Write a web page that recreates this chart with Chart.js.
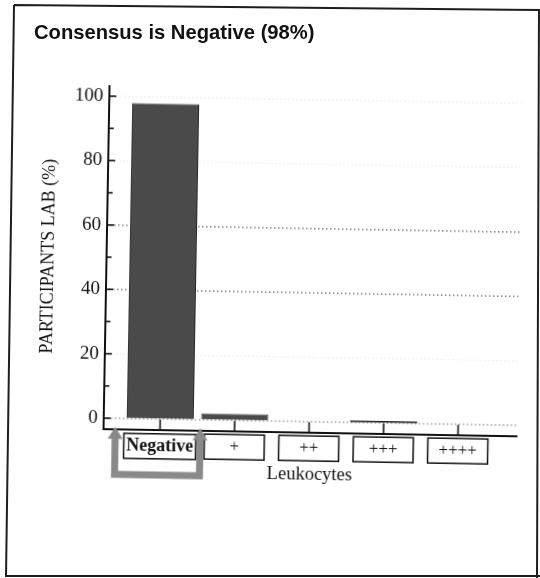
<!DOCTYPE html>
<html><head><meta charset="utf-8">
<script src="https://cdn.jsdelivr.net/npm/chart.js@4.4.1/dist/chart.umd.min.js"></script>
<style>
html,body{margin:0;padding:0;background:#fff;width:540px;height:578px;overflow:hidden;position:relative}
#frame{position:absolute;left:0;top:0}
#title{position:absolute;left:34px;top:22px;font:bold 20.2px 'Liberation Sans',Arial,sans-serif;line-height:20px;color:#111;white-space:nowrap}
#c{position:absolute;left:0;top:0;transform:rotate(1deg);transform-origin:270px 289px}
</style></head><body>
<svg id="frame" width="540" height="578"><path d="M14 5 L541 10 M539 9 L537 578 M6 576 L540 576 M14 5 L6 577" stroke="#1e1e1e" stroke-width="2" fill="none"/></svg>
<canvas id="c" width="540" height="578"></canvas>
<div id="title"></div>
<script>
// ---- data ----
const chartTitle = 'Consensus is Negative (98%)';
const categories = ['Negative', '+', '++', '+++', '++++'];
const values = [98, 2, 0, 0.6, 0];
const yTickValues = [0, 10, 20, 30, 40, 50, 60, 70, 80, 90, 100];
const yLabelStep = 20;
const xTitle = 'Leukocytes';
const yTitle = 'PARTICIPANTS LAB (%)';

document.getElementById('title').textContent = chartTitle;

const SERIF = "'Liberation Serif','Times New Roman',serif";
function tickFont(i) {
  return i === 0 ? {family: SERIF, size: 18, weight: 'bold'} : {family: SERIF, size: 17, weight: 'normal'};
}
function gridColor(v) {
  if (v === 40 || v === 60) return '#6a6a6a';
  if (v === 0) return '#a0a0a0';
  return '#ededed';
}

const decor = {
  id: 'decor',
  beforeDatasetsDraw(chart) {
    const {ctx, chartArea: a, scales: {y}} = chart;
    ctx.save();
    ctx.lineWidth = 1.3;
    ctx.setLineDash([1.5, 2.5]);
    yTickValues.filter(v => v % yLabelStep === 0).forEach(v => {
      const py = y.getPixelForValue(v);
      ctx.strokeStyle = gridColor(v);
      ctx.beginPath(); ctx.moveTo(a.left + 3, py); ctx.lineTo(a.right, py); ctx.stroke();
    });
    ctx.restore();
  },
  afterDraw(chart) {
    const {ctx, chartArea: a, scales: {x, y}} = chart;
    ctx.save();
    ctx.strokeStyle = '#111';
    ctx.lineWidth = 1.6;
    // inward y ticks
    yTickValues.forEach(v => {
      const py = y.getPixelForValue(v);
      ctx.beginPath(); ctx.moveTo(a.left, py); ctx.lineTo(a.left + (v % yLabelStep === 0 ? 7 : 5), py); ctx.stroke();
    });
    // upward category ticks
    categories.forEach((c, i) => {
      const px = x.getPixelForValue(i);
      ctx.beginPath(); ctx.moveTo(px, a.bottom); ctx.lineTo(px, a.bottom - 10); ctx.stroke();
    });
    // boxes around category labels
    ctx.lineWidth = 1.5;
    categories.forEach((c, i) => {
      const f = tickFont(i);
      ctx.font = `${f.weight} ${f.size}px ${f.family}`;
      const w = Math.max(ctx.measureText(c).width + 5, 60);
      const h = 25;
      const px = x.getPixelForValue(i);
      const cy = a.bottom + 6 + f.size * 0.6;
      ctx.strokeRect(px - w / 2, cy - h / 2, w, h);
    });
    // gray bracket arrow under the consensus category
    const lx = x.getPixelForValue(-0.6), rx = x.getPixelForValue(0.54);
    const tipY = a.bottom - 2, baseY = a.bottom + 45.5;
    ctx.strokeStyle = '#8a8a8a';
    ctx.fillStyle = '#8a8a8a';
    ctx.lineWidth = 7;
    ctx.lineJoin = 'miter';
    ctx.beginPath();
    ctx.moveTo(lx, tipY + 11); ctx.lineTo(lx, baseY); ctx.lineTo(rx, baseY); ctx.lineTo(rx, tipY + 11);
    ctx.stroke();
    [lx, rx].forEach(px => {
      ctx.beginPath(); ctx.moveTo(px, tipY); ctx.lineTo(px - 7.5, tipY + 12); ctx.lineTo(px + 7.5, tipY + 12); ctx.closePath(); ctx.fill();
    });
    ctx.restore();
  }
};

new Chart(document.getElementById('c'), {
  type: 'bar',
  data: {
    datasets: [{
      data: categories.map((c, i) => ({x: i, y: values[i]})),
      backgroundColor: ctx => (ctx.raw && ctx.raw.y < 1 ? '#1e1e1e' : '#4a4a4a'),
      borderColor: '#2a2a2a',
      borderWidth: ctx => (ctx.raw && ctx.raw.y < 1 ? 0 : 1),
      barPercentage: 0.9,
      categoryPercentage: 1
    }]
  },
  options: {
    responsive: false,
    animation: false,
    layout: {padding: {left: 30, right: 21, top: 88.7, bottom: 0}},
    plugins: {legend: {display: false}, tooltip: {enabled: false}, title: {display: false}},
    scales: {
      x: {
        type: 'linear', min: -0.758, max: 4.785, offset: false,
        afterBuildTicks(s) { s.ticks = categories.map((c, i) => ({value: i})); },
        afterFit(s) { s.height = 146.5; },
        ticks: {
          callback: v => categories[v] ?? '',
          font: ctx => tickFont(ctx.index),
          color: '#111', padding: 6, autoSkip: false, maxRotation: 0
        },
        grid: {drawOnChartArea: false, drawTicks: false},
        border: {display: true, color: '#111', width: 2},
        title: {display: true, text: xTitle, font: {family: SERIF, size: 18.5}, color: '#111', padding: {top: 0, bottom: 92.9}}
      },
      y: {
        type: 'linear', min: -3.26, max: 103.2,
        afterBuildTicks(s) { s.ticks = yTickValues.map(v => ({value: v})); },
        afterFit(s) { s.width = 76; },
        ticks: {
          callback: v => (v % yLabelStep === 0 ? String(v) : ''),
          font: {family: SERIF, size: 19}, color: '#111', padding: 6, autoSkip: false
        },
        grid: {drawOnChartArea: false, drawTicks: false},
        border: {display: true, color: '#111', width: 2},
        title: {display: true, text: yTitle, font: {family: SERIF, size: 18}, color: '#111', padding: {top: 7.6, bottom: 0}}
      }
    }
  },
  plugins: [decor]
});
</script>
</body></html>
